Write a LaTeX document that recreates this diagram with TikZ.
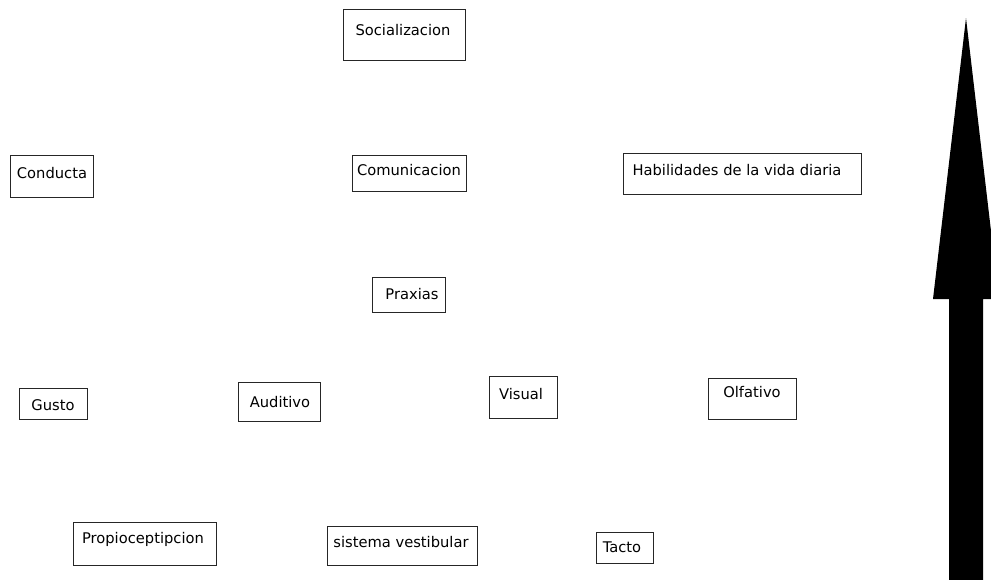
\documentclass[tikz,border=0pt]{standalone}
\usepackage{fontspec}
\setmainfont{DejaVu Sans}
\begin{document}
\begin{tikzpicture}[x=1pt,y=-1pt,
  box/.style={draw=black!85,line width=1pt,inner sep=0pt},
  lbl/.style={inner sep=0pt,text height=10.8pt,text depth=0pt,font=\fontsize{14.7}{16}\selectfont,text=black}]
\useasboundingbox (0,0) rectangle (991,579);
\clip (0,0) rectangle (991,579);
% boxes
\node[box,minimum width=122pt,minimum height=51pt] (soc) at (404,34.5) {};
\node[lbl] (soct) at (403,30) {Socializacion};
\node[box,minimum width=83pt,minimum height=42pt] (con) at (51.5,176) {};
\node[lbl] (cont) at (52,173) {Conducta};
\node[box,minimum width=114pt,minimum height=36pt] (com) at (409,173) {};
\node[lbl] (comt) at (409,170) {Comunicacion};
\node[box,minimum width=238pt,minimum height=41pt] (hab) at (742,173.5) {};
\node[lbl] (habt) at (737,170) {Habilidades de la vida diaria};
\node[box,minimum width=73pt,minimum height=35pt] (pra) at (408.5,294.5) {};
\node[lbl] (prat) at (412,294) {Praxias};
\node[box,minimum width=68pt,minimum height=31pt] (gus) at (53,403.5) {};
\node[lbl] (gust) at (53,405) {Gusto};
\node[box,minimum width=82pt,minimum height=39pt] (aud) at (279,401.5) {};
\node[lbl] (audt) at (280,402) {Auditivo};
\node[box,minimum width=68pt,minimum height=42pt] (vis) at (523,397) {};
\node[lbl] (vist) at (521,394) {Visual};
\node[box,minimum width=88pt,minimum height=41pt] (olf) at (752,398.5) {};
\node[lbl] (olft) at (752,392) {Olfativo};
\node[box,minimum width=143pt,minimum height=43pt] (pro) at (144.5,543.5) {};
\node[lbl] (prot) at (143,538) {Propioceptipcion};
\node[box,minimum width=150pt,minimum height=39pt] (ves) at (402,545.5) {};
\node[lbl] (vest) at (401,542) {sistema vestibular};
\node[box,minimum width=57pt,minimum height=31pt] (tac) at (624.5,547.5) {};
\node[lbl] (tact) at (622,547) {Tacto};
% big arrow
\fill[black] (966,18) -- (999,299) -- (983,299) -- (983,590) -- (949,590) -- (949,299) -- (933,299) -- cycle;
\end{tikzpicture}
\end{document}
